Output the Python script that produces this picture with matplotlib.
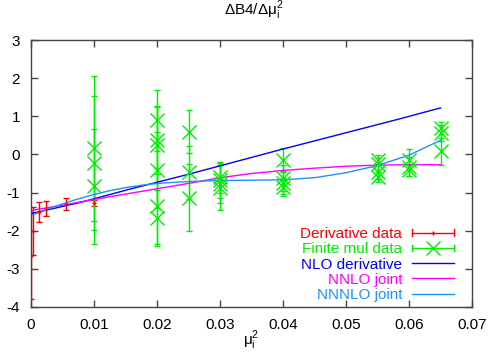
import matplotlib
matplotlib.use("Agg")
import matplotlib.pyplot as plt
from matplotlib.legend_handler import HandlerBase
from matplotlib.lines import Line2D

plt.rcParams['font.family'] = ['Liberation Sans', 'DejaVu Sans']
plt.rcParams['font.size'] = 11
plt.rcParams['axes.unicode_minus'] = False

# derivative data (red)
deriv_x = [0.0, 0.0003, 0.0012, 0.0024, 0.0056, 0.01]
deriv_y = [-2.65, -2.0, -1.52, -1.42, -1.30, -1.28]
deriv_err = [1.15, 0.63, 0.26, 0.19, 0.16, 0.08]

# finite mu data (green)
fin_x = [0.01, 0.01, 0.01,
         0.02, 0.02, 0.02, 0.02, 0.02, 0.02,
         0.025, 0.025, 0.025,
         0.03, 0.03, 0.03, 0.03,
         0.04, 0.04, 0.04, 0.04,
         0.055, 0.055, 0.055, 0.055,
         0.06, 0.06, 0.06,
         0.065, 0.065, 0.065]
fin_y = [0.16, -0.23, -0.84,
         0.90, 0.38, 0.25, -0.41, -1.35, -1.67,
         0.60, -0.47, -1.14,
         -0.60, -0.68, -0.78, -0.87,
         -0.14, -0.62, -0.75, -0.85,
         -0.14, -0.25, -0.45, -0.60,
         -0.14, -0.32, -0.42,
         0.69, 0.56, 0.08]
fin_err = [1.90, 1.76, 1.50,
           0.80, 0.90, 1.00, 1.00, 1.00, 0.74,
           0.57, 0.70, 0.88,
           0.40, 0.45, 0.50, 0.58,
           0.30, 0.35, 0.30, 0.23,
           0.13, 0.15, 0.20, 0.13,
           0.28, 0.24, 0.14,
           0.15, 0.20, 0.35]

# fit curves
nlo_x = [0.0, 0.0078, 0.0157, 0.025, 0.0395, 0.058, 0.065]
nlo_y = [-1.55, -1.26, -0.91, -0.52, 0.12, 0.91, 1.22]

nnlo_x = [0.0, 0.005, 0.01, 0.015, 0.02, 0.025, 0.03, 0.035, 0.04, 0.045, 0.05, 0.055, 0.06, 0.065]
nnlo_y = [-1.47, -1.33, -1.18, -1.04, -0.90, -0.76, -0.61, -0.50, -0.42, -0.36, -0.31, -0.28, -0.27, -0.27]

nnnlo_x = [0.0, 0.0035, 0.007, 0.01, 0.0125, 0.015, 0.0175, 0.02, 0.025, 0.03, 0.035,
           0.04, 0.045, 0.05, 0.055, 0.06, 0.065]
nnnlo_y = [-1.60, -1.38, -1.19, -1.05, -0.95, -0.87, -0.81, -0.76, -0.71, -0.685, -0.675,
           -0.665, -0.61, -0.48, -0.29, -0.02, 0.37]

xticks = [0, 0.01, 0.02, 0.03, 0.04, 0.05, 0.06, 0.07]
xtick_labels = ['0', '0.01', '0.02', '0.03', '0.04', '0.05', '0.06', '0.07']
yticks = [-4, -3, -2, -1, 0, 1, 2, 3]

RED = '#ff0000'
GREEN = '#00ee00'
BLUE = '#0000ff'
MAGENTA = '#ff00ff'
LBLUE = '#1e90ff'


class HErrHandler(HandlerBase):
    # gnuplot style key sample: horizontal bar with end caps and a point
    def __init__(self, color, marker, ms, cap):
        super().__init__()
        self.color, self.marker, self.ms, self.cap = color, marker, ms, cap

    def create_artists(self, legend, orig_handle, xdescent, ydescent,
                       width, height, fontsize, trans):
        x0, x1 = -xdescent, -xdescent + width
        y = height / 2 - ydescent
        c = self.cap
        arts = [Line2D([x0, x1], [y, y], color=self.color, lw=1),
                Line2D([x0, x0], [y - c, y + c], color=self.color, lw=1),
                Line2D([x1, x1], [y - c, y + c], color=self.color, lw=1),
                Line2D([(x0 + x1) / 2], [y], color=self.color, marker=self.marker,
                       ms=self.ms, mew=1, ls='none')]
        for a in arts:
            a.set_transform(trans)
        return arts


fig = plt.figure(figsize=(4.91, 3.54), dpi=100)
ax = fig.add_axes([31 / 491, 1 - 307 / 354, 441 / 491, 267 / 354])

d = ax.errorbar(deriv_x, deriv_y, yerr=deriv_err, fmt='+', color=RED, ms=3,
                elinewidth=1, capsize=2.5, capthick=1, mew=1)
f = ax.errorbar(fin_x, fin_y, yerr=fin_err, fmt='x', color=GREEN, ms=10,
                elinewidth=1, capsize=2.5, capthick=1, mew=1)
l1, = ax.plot(nlo_x, nlo_y, color=BLUE, lw=1)
l2, = ax.plot(nnlo_x, nnlo_y, color=MAGENTA, lw=1)
l3, = ax.plot(nnnlo_x, nnnlo_y, color=LBLUE, lw=1)

ax.set_xlim(0, 0.07)
ax.set_ylim(-4, 3)
ax.set_xticks(xticks)
ax.set_xticklabels(xtick_labels)
ax.set_yticks(yticks)
ax.tick_params(direction='in', top=True, right=True, length=5, width=1,
               color='#444444', labelsize=11, pad=8)
for s in ax.spines.values():
    s.set_color('#444444')
    s.set_linewidth(1)

ax.set_title('ΔB4/Δμ$_\\mathregular{i}^\\mathregular{2}$', fontsize=11,
             x=(254 - 31) / 441, y=1.0, pad=18)
ax.set_xlabel('μ$_\\mathregular{i}^\\mathregular{2}$', fontsize=11, labelpad=-3)

leg = ax.legend([d, f, l1, l2, l3],
                ['Derivative data', 'Finite mul data', 'NLO derivative',
                 'NNLO joint', 'NNNLO joint'],
                handler_map={d: HErrHandler(RED, '+', 3, 2.5),
                             f: HErrHandler(GREEN, 'x', 10, 2.5)},
                loc='lower right', bbox_to_anchor=(454 / 491, 1 - 302 / 354),
                bbox_transform=fig.transFigure, frameon=False, markerfirst=False,
                handlelength=2.75, handletextpad=0.65, labelspacing=0.08,
                borderpad=0, borderaxespad=0, fontsize=11)
for t, c in zip(leg.get_texts(), [RED, GREEN, BLUE, MAGENTA, LBLUE]):
    t.set_color(c)

fig.savefig('out.png', dpi=100)
